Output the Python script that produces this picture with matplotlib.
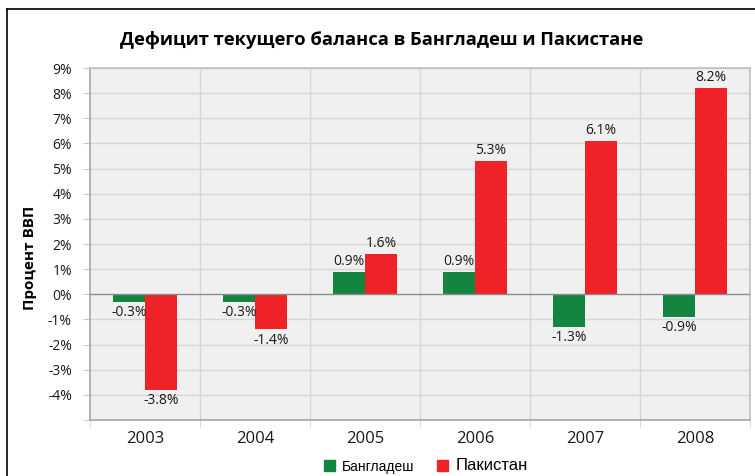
import numpy as np
import matplotlib.pyplot as plt
from matplotlib.lines import Line2D
from matplotlib.patches import Patch

# данные
years = ['2003', '2004', '2005', '2006', '2007', '2008']
bangladesh = [-0.3, -0.3, 0.9, 0.9, -1.3, -0.9]
pakistan = [-3.8, -1.4, 1.6, 5.3, 6.1, 8.2]
yticks = list(range(-4, 10))

green = '#138541'
red = '#ee2227'

plt.rcParams['font.family'] = ['Open Sans', 'DejaVu Sans']

fig = plt.figure(figsize=(7.55, 4.76), dpi=100)
ax = fig.add_axes([90/755, 1-420/476, 660/755, 352/476])
ax.set_facecolor('#f0f0f0')

x = np.arange(len(years))
w = 0.29
b1 = ax.bar(x - w/2, bangladesh, w, color=green, zorder=3)
b2 = ax.bar(x + w/2, pakistan, w, color=red, zorder=3)

for rect, v in zip(b1, bangladesh):
    xc = rect.get_x() + rect.get_width()/2
    if v < 0:
        ax.text(xc, v - 0.12, f'{v:.1f}%', ha='center', va='top', fontsize=10, color='#1a1a1a')
    else:
        ax.text(xc, v + 0.12, f'{v:.1f}%', ha='center', va='bottom', fontsize=10, color='#1a1a1a')
for rect, v in zip(b2, pakistan):
    xc = rect.get_x() + rect.get_width()/2
    if v < 0:
        ax.text(xc, v - 0.12, f'{v:.1f}%', ha='center', va='top', fontsize=10, color='#1a1a1a')
    else:
        ax.text(xc, v + 0.12, f'{v:.1f}%', ha='center', va='bottom', fontsize=10, color='#1a1a1a')

ax.set_xlim(-0.5, len(years) - 0.5)
ax.set_ylim(-5, 9)
ax.set_yticks(yticks)
ax.set_yticklabels([f'{t}%' for t in yticks], fontsize=10, color='#1a1a1a')
ax.set_yticks([-5], minor=True)
ax.set_xticks(x)
ax.set_xticklabels(years, fontsize=12, color='#1a1a1a')
ax.set_xticks(np.arange(-0.5, len(years)), minor=True)
ax.tick_params(axis='x', which='major', length=0, pad=8)
ax.tick_params(axis='x', which='minor', length=5, color='#d0d0d0')
ax.tick_params(axis='y', which='both', length=5, color='#c8c8c8', pad=8)

for t in yticks:
    if t != 0:
        ax.axhline(t, color='#d6d6d6', lw=1, zorder=1)
for xb in np.arange(0.5, len(years) - 0.5):
    ax.axvline(xb, color='#d6d6d6', lw=1, zorder=1)
ax.axhline(0, color='#8c8c8c', lw=1, zorder=4)

for s in ['left', 'bottom']:
    ax.spines[s].set_color('#a6a6a6')
for s in ['right', 'top']:
    ax.spines[s].set_color('#c0c0c0')
for s in ax.spines.values():
    s.set_linewidth(1.2)

fig.text(30/755, 1-258/476, 'Процент ВВП', rotation=90, ha='center', va='center',
         fontsize=11, fontweight='bold')

fig.text(382/755, 1-40/476, 'Дефицит текущего баланса в Бангладеш и Пакистане',
         ha='center', va='center', fontsize=13.2, fontweight='bold')

# рамка
fig.add_artist(Line2D([7/755, 7/755], [0, 1-9/476], color='black', lw=1.2))
fig.add_artist(Line2D([7/755, 1], [1-9/476, 1-9/476], color='black', lw=1.2))

handles = [Patch(color=green, label='Бангладеш'), Patch(color=red, label='Пакистан')]
leg = fig.legend(handles=handles, loc='center', bbox_to_anchor=(426/755, 1-466/476),
                 ncol=2, frameon=False, handlelength=0.7, handleheight=0.7,
                 handletextpad=0.5, columnspacing=1.5,
                 prop={'family': 'Liberation Sans', 'size': 11})
leg.get_texts()[0].set_fontsize(10)
leg.get_texts()[1].set_fontsize(12)

plt.savefig('out.png', dpi=100)
